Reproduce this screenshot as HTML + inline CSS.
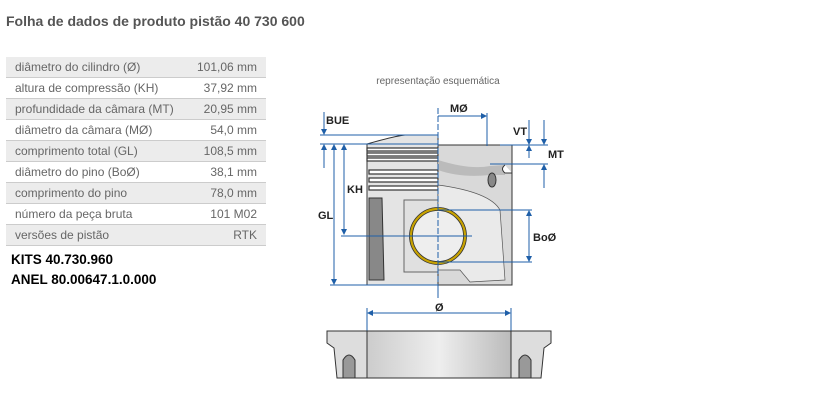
<!DOCTYPE html>
<html><head><meta charset="utf-8"><style>
body{margin:0;width:820px;height:418px;background:#fff;font-family:"Liberation Sans",sans-serif;position:relative;overflow:hidden}
h1{position:absolute;left:6px;top:13px;margin:0;font-size:14px;font-weight:bold;color:#555}
table{position:absolute;left:6px;top:57px;width:260px;border-collapse:collapse;font-size:12px;color:#666}
td{height:20px;padding:0 9px;border-bottom:1px solid #ccc}
td.v{text-align:right}
tr:nth-child(odd){background:#ececec}
.k{position:absolute;left:11px;font-size:13.5px;font-weight:bold;color:#000}
</style></head><body>
<h1>Folha de dados de produto pistão 40 730 600</h1>
<table>
<tr><td>diâmetro do cilindro (Ø)</td><td class="v">101,06 mm</td></tr>
<tr><td>altura de compressão (KH)</td><td class="v">37,92 mm</td></tr>
<tr><td>profundidade da câmara (MT)</td><td class="v">20,95 mm</td></tr>
<tr><td>diâmetro da câmara (MØ)</td><td class="v">54,0 mm</td></tr>
<tr><td>comprimento total (GL)</td><td class="v">108,5 mm</td></tr>
<tr><td>diâmetro do pino (BoØ)</td><td class="v">38,1 mm</td></tr>
<tr><td>comprimento do pino</td><td class="v">78,0 mm</td></tr>
<tr><td>número da peça bruta</td><td class="v">101 M02</td></tr>
<tr><td>versões de pistão</td><td class="v">RTK</td></tr>
</table>
<div class="k" style="top:252px">KITS 40.730.960</div>
<div class="k" style="top:272px">ANEL 80.00647.1.0.000</div>
<svg width="820" height="418" style="position:absolute;left:0;top:0" font-family="Liberation Sans,sans-serif">
<defs><linearGradient id="g" x1="0" x2="1"><stop offset="0" stop-color="#ccc"/><stop offset=".5" stop-color="#eee"/><stop offset="1" stop-color="#bbb"/></linearGradient>
<marker id="a" markerWidth="6" markerHeight="6" refX="5" refY="3" orient="auto"><path d="M0,0L6,3L0,6z" fill="#1f5fa8"/></marker></defs>
<text x="438" y="84" font-size="10" fill="#666" text-anchor="middle">representação esquemática</text>
<path d="M367,144 Q395,136 405,135 L438,135 L438,285 L367,285Z" fill="#e4e4e4" stroke="#333" stroke-width="1"/>
<g stroke="#333" fill="#fff" stroke-width="1.2">
<rect x="367" y="148" width="71" height="3"/><rect x="367" y="153" width="71" height="3"/><rect x="367" y="158" width="71" height="3"/>
<rect x="369" y="170" width="69" height="4"/><rect x="369" y="178" width="69" height="4"/><rect x="369" y="186" width="69" height="4"/></g>
<path d="M369,198 L382,198 L384,280 L369,280Z" fill="#888" stroke="#333"/>
<rect x="404" y="200" width="34" height="72" fill="#e0e0e0" stroke="#666"/>
<path d="M438,145 L512,145 L512,285 L438,285Z" fill="#d9d9d9" stroke="#333"/>
<path d="M438,160 Q470,170 490,166 L505,165 L505,175 L490,175 Q460,178 438,170Z" fill="#bbb"/>
<path d="M438,185 Q490,192 500,210 L505,280 L470,282 L460,270 L438,270Z" fill="#eaeaea" stroke="#555" stroke-width=".7"/>
<ellipse cx="492" cy="180" rx="4" ry="7" fill="#888" stroke="#333"/>
<path d="M505,165 Q500,169 505,173 L512,173" fill="#fff" stroke="#333"/>
<circle cx="438" cy="236" r="27" fill="#eee" stroke="#c8a200" stroke-width="3"/>
<circle cx="438" cy="236" r="28.5" fill="none" stroke="#333" stroke-width=".8"/>
<circle cx="438" cy="236" r="25.5" fill="none" stroke="#333" stroke-width=".8"/>
<g stroke="#1f5fa8" stroke-width="1" fill="none">
<line x1="438" y1="108" x2="438" y2="290" stroke-dasharray="6,2"/>
<line x1="320" y1="135" x2="438" y2="135"/><line x1="320" y1="144" x2="438" y2="144"/>
<line x1="324" y1="112" x2="324" y2="134" marker-end="url(#a)"/><line x1="324" y1="168" x2="324" y2="145" marker-end="url(#a)"/>
<line x1="334" y1="150" x2="334" y2="145" marker-end="url(#a)"/><line x1="334" y1="145" x2="334" y2="284" marker-end="url(#a)"/>
<line x1="330" y1="285" x2="438" y2="285"/>
<line x1="344" y1="145" x2="344" y2="234" marker-end="url(#a)"/><line x1="344" y1="150" x2="344" y2="145" marker-end="url(#a)"/>
<line x1="341" y1="236" x2="472" y2="236"/>
<line x1="438" y1="116" x2="486" y2="116" marker-end="url(#a)"/><line x1="487" y1="113" x2="487" y2="146"/>
<line x1="500" y1="145" x2="548" y2="145"/><line x1="490" y1="164" x2="548" y2="164"/>
<line x1="529" y1="120" x2="529" y2="144" marker-end="url(#a)"/><line x1="529" y1="158" x2="529" y2="146" marker-end="url(#a)"/>
<line x1="544" y1="120" x2="544" y2="144" marker-end="url(#a)"/><line x1="544" y1="188" x2="544" y2="165" marker-end="url(#a)"/>
<line x1="438" y1="210" x2="532" y2="210"/><line x1="438" y1="262" x2="532" y2="262"/>
<line x1="529" y1="236" x2="529" y2="211" marker-end="url(#a)"/><line x1="529" y1="236" x2="529" y2="261" marker-end="url(#a)"/>
<line x1="438" y1="290" x2="438" y2="298"/>
<line x1="367" y1="308" x2="367" y2="378"/><line x1="511" y1="308" x2="511" y2="378"/>
<line x1="440" y1="313" x2="368" y2="313" marker-end="url(#a)"/><line x1="440" y1="313" x2="510" y2="313" marker-end="url(#a)"/>
</g>
<g font-size="11" font-weight="bold" fill="#222">
<text x="326" y="124">BUE</text><text x="318" y="219">GL</text><text x="347" y="193">KH</text>
<text x="450" y="112">MØ</text><text x="513" y="135">VT</text><text x="548" y="158">MT</text>
<text x="533" y="241">BoØ</text><text x="435" y="311">Ø</text></g>
<path d="M327,331 L551,331 L551,343 L544,348 L541,378 L337,378 L334,348 L327,343Z" fill="#ddd" stroke="#333"/>
<rect x="367" y="331" width="144" height="47" fill="url(#g)" stroke="#333"/>
<path d="M343,378 L343,360 Q349,350 355,360 L355,378Z" fill="#999" stroke="#333"/>
<path d="M519,378 L519,360 Q525,350 531,360 L531,378Z" fill="#999" stroke="#333"/>
</svg>
</body></html>
